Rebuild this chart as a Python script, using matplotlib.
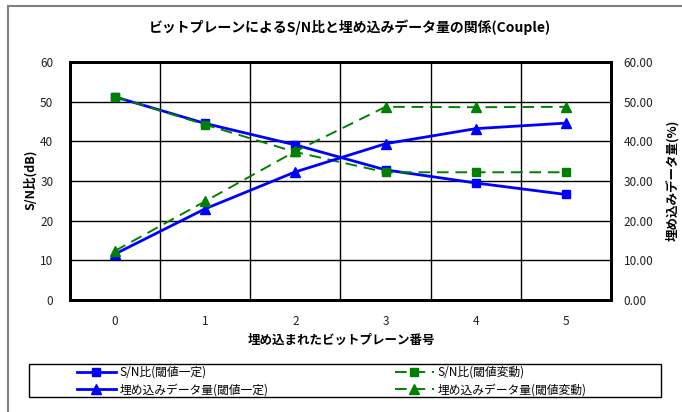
import numpy as np
import matplotlib
matplotlib.use("Agg")
import matplotlib.pyplot as plt
from matplotlib.patches import Rectangle
from matplotlib.lines import Line2D

plt.rcParams['font.family'] = ['Noto Sans CJK JP', 'DejaVu Sans']

# bit plane index
planes = [0, 1, 2, 3, 4, 5]

# S/N ratio (dB)
sn_fixed = [51.2, 44.5, 39.1, 32.8, 29.5, 26.6]
sn_variable = [51.3, 44.2, 37.3, 32.2, 32.2, 32.2]

# embedded data amount (%)
data_fixed = [11.6, 23.0, 32.3, 39.4, 43.2, 44.6]
data_variable = [12.4, 24.9, 37.5, 48.7, 48.6, 48.7]

labels = ["S/N比(閾値一定)", "埋め込みデータ量(閾値一定)",
          "S/N比(閾値変動)", "埋め込みデータ量(閾値変動)"]

W, H = 682, 412
fig = plt.figure(figsize=(W / 100, H / 100), dpi=100)

# outer chart frame (left and top edges fall inside the image)
fig.add_artist(Line2D([8 / W, 8 / W], [0, 1 - 6 / H], transform=fig.transFigure,
                      color='#808080', lw=1.5))
fig.add_artist(Line2D([8 / W, 1], [1 - 6 / H, 1 - 6 / H], transform=fig.transFigure,
                      color='#808080', lw=1.5))

ax = fig.add_axes([70 / W, 1 - 300 / H, 541 / W, 238 / H])
ax2 = ax.twinx()

blue = '#0000FF'
green = '#008000'

h1, = ax.plot(planes, sn_fixed, color=blue, lw=2, marker='s', ms=6, zorder=3)
h2, = ax2.plot(planes, data_fixed, color=blue, lw=2, marker='^', ms=7, zorder=3)
h3, = ax.plot(planes, sn_variable, color=green, lw=1.4, ls=(0, (6, 3.5)),
              marker='s', ms=6, zorder=4)
h4, = ax2.plot(planes, data_variable, color=green, lw=1.4, ls=(0, (6, 3.5)),
               marker='^', ms=7, zorder=4)

ax.set_xlim(-0.5, 5.5)
for a in (ax, ax2):
    a.set_ylim(0, 60)
    a.set_yticks(np.arange(0, 61, 10))
ax2.set_yticklabels([f"{v:.2f}" for v in range(0, 61, 10)])
ax.set_xticks(planes)

# grid: horizontal at ticks, vertical between categories
for y in range(10, 60, 10):
    ax.axhline(y, color='black', lw=1, zorder=1)
for x in np.arange(0.5, 5.5, 1):
    ax.axvline(x, color='black', lw=1, zorder=1)

for a in (ax, ax2):
    for s in a.spines.values():
        s.set_linewidth(2)
        s.set_color('black')
    a.tick_params(length=0, labelsize=8.5, colors='#222222')
ax.tick_params(axis='y', pad=12)
ax.tick_params(axis='x', pad=11)
ax2.tick_params(axis='y', pad=9)

fig.text(350 / W, 1 - 27 / H, "ビットプレーンによるS/N比と埋め込みデータ量の関係(Couple)",
         ha='center', va='center', fontsize=10, fontweight='bold')
fig.text(30 / W, 1 - 180 / H, "S/N比(dB)", rotation=90, ha='center', va='center',
         fontsize=9, fontweight='bold')
fig.text(672 / W, 1 - 180 / H, "埋め込みデータ量(%)", rotation=90, ha='center',
         va='center', fontsize=9, fontweight='bold')
fig.text(341 / W, 1 - 340 / H, "埋め込まれたビットプレーン番号", ha='center',
         va='center', fontsize=9, fontweight='bold')

# legend box drawn separately, entries placed inside it
fig.patches.append(Rectangle((29 / W, 1 - 397 / H), 632 / W, 33 / H,
                             transform=fig.transFigure, fill=False,
                             edgecolor='black', linewidth=1))
leg = fig.legend([h1, h2, h3, h4], labels, ncol=2, loc='upper left',
                 bbox_to_anchor=(77 / W, 1 - 366 / H), fontsize=8.5,
                 frameon=False, handlelength=3.3, handletextpad=0.3,
                 borderpad=0, labelspacing=0.35, columnspacing=10.7,
                 borderaxespad=0)

fig.savefig("out.png", dpi=100)
